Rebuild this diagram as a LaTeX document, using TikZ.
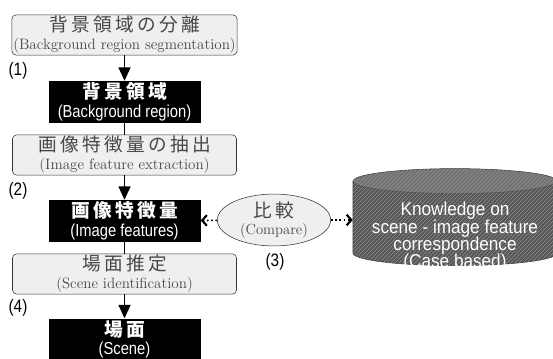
\documentclass[tikz,border=0pt]{standalone}
\usepackage{fontspec}
\newfontfamily\jpfont{Noto Sans CJK JP}[LetterSpace=18]
\newfontfamily\narrowsans{Liberation Sans}[FakeStretch=0.85]
\newfontfamily\kbsans{Liberation Sans}[FakeStretch=0.92]
\newcommand{\kbfont}{\kbsans\fontsize{14}{13}\selectfont\lineskiplimit=-6pt\relax}
\usetikzlibrary{arrows.meta, positioning, shapes.geometric, patterns}
\definecolor{boxgray}{HTML}{EFEFEF}
\definecolor{textgray}{HTML}{474747}

\begin{document}
\begin{tikzpicture}[x=0.75pt, y=-0.75pt,
    procbox/.style={rectangle, draw=black!80, fill=boxgray, rounded corners=3pt,
                    minimum width=168pt, minimum height=30pt, align=center,
                    text=textgray, inner sep=1pt, font=\fontsize{11.3}{13.5}\selectfont},
    databox/.style={rectangle, fill=black, minimum width=114pt, minimum height=31.5pt,
                    align=center, text=white, inner sep=1pt,
                    font=\narrowsans\fontsize{13}{14}\selectfont},
    arr/.style={-{Triangle[length=10pt,width=9pt]}, line width=0.9pt},
    dotarr/.style={dotted, line width=1.2pt, -{Straight Barb[length=3.5pt,width=8pt,line width=1.6pt]}},
    steplabel/.style={font=\narrowsans\fontsize{13.5}{13.5}\selectfont, inner sep=0pt}
]
\useasboundingbox (0,0) rectangle (553,358);

% main flow
\node[procbox] (seg)  at (124.5,35)  {{\jpfont\fontsize{14}{14}\selectfont 背景領域の分離}\\(Background region segmentation)};
\node[databox] (bgr)  at (124.5,102) {{\jpfont\bfseries\fontsize{14}{14}\selectfont 背景領域}\\(Background region)};
\node[procbox] (ext)  at (124.5,155) {{\jpfont\fontsize{14}{14}\selectfont 画像特徴量の抽出}\\(Image feature extraction)};
\node[databox] (feat) at (124.5,221) {{\jpfont\bfseries\fontsize{14}{14}\selectfont 画像特徴量}\\(Image features)};
\node[procbox] (scn)  at (124.5,274) {{\jpfont\fontsize{14}{14}\selectfont 場面推定}\\(Scene identification)};
\node[databox] (res)  at (124.5,339.5) {{\jpfont\bfseries\fontsize{14}{14}\selectfont 場面}\\(Scene)};

\node[steplabel] (l1) at (18,71)  {(1)};
\node[steplabel] (l2) at (18,191) {(2)};
\node[steplabel] (l4) at (18,308) {(4)};

% comparison with the knowledge base
\node[ellipse, draw=black!80, fill=boxgray, minimum width=85pt, minimum height=23pt,
      inner sep=0pt, align=center, text=textgray, font=\fontsize{11}{13}\selectfont]
    (cmp) at (274,220) {{\jpfont\fontsize{14}{14}\selectfont 比較}\\(Compare)};
\node[steplabel] (l3) at (275,262) {(3)};

\node[cylinder, shape border rotate=90, aspect=0.1225, draw=black!80, inner sep=0pt,
      minimum height=72.75pt, cylinder uses custom fill,
      cylinder body fill=black!66, cylinder end fill=black!55,
      postaction={pattern=north east lines, pattern color=black!45}]
    (kb) at (455,223.5) {\hspace*{153pt}};
\node[align=center, text=white, font=\kbfont] (kbtext) at ([yshift=-10pt]kb.center)
    {Knowledge on\\scene - image feature\\correspondence\\(Case based)};

\draw[arr] (seg) -- (bgr);
\draw[line width=0.9pt] (bgr) -- (ext);
\draw[arr] (ext) -- (feat);
\draw[line width=0.9pt] (feat) -- (scn);
\draw[arr] (scn) -- (res);
\draw[dotarr] (cmp) -- (feat);
\draw[dotarr] (cmp.east) -- (cmp.east -| kb.west);
\end{tikzpicture}
\end{document}
